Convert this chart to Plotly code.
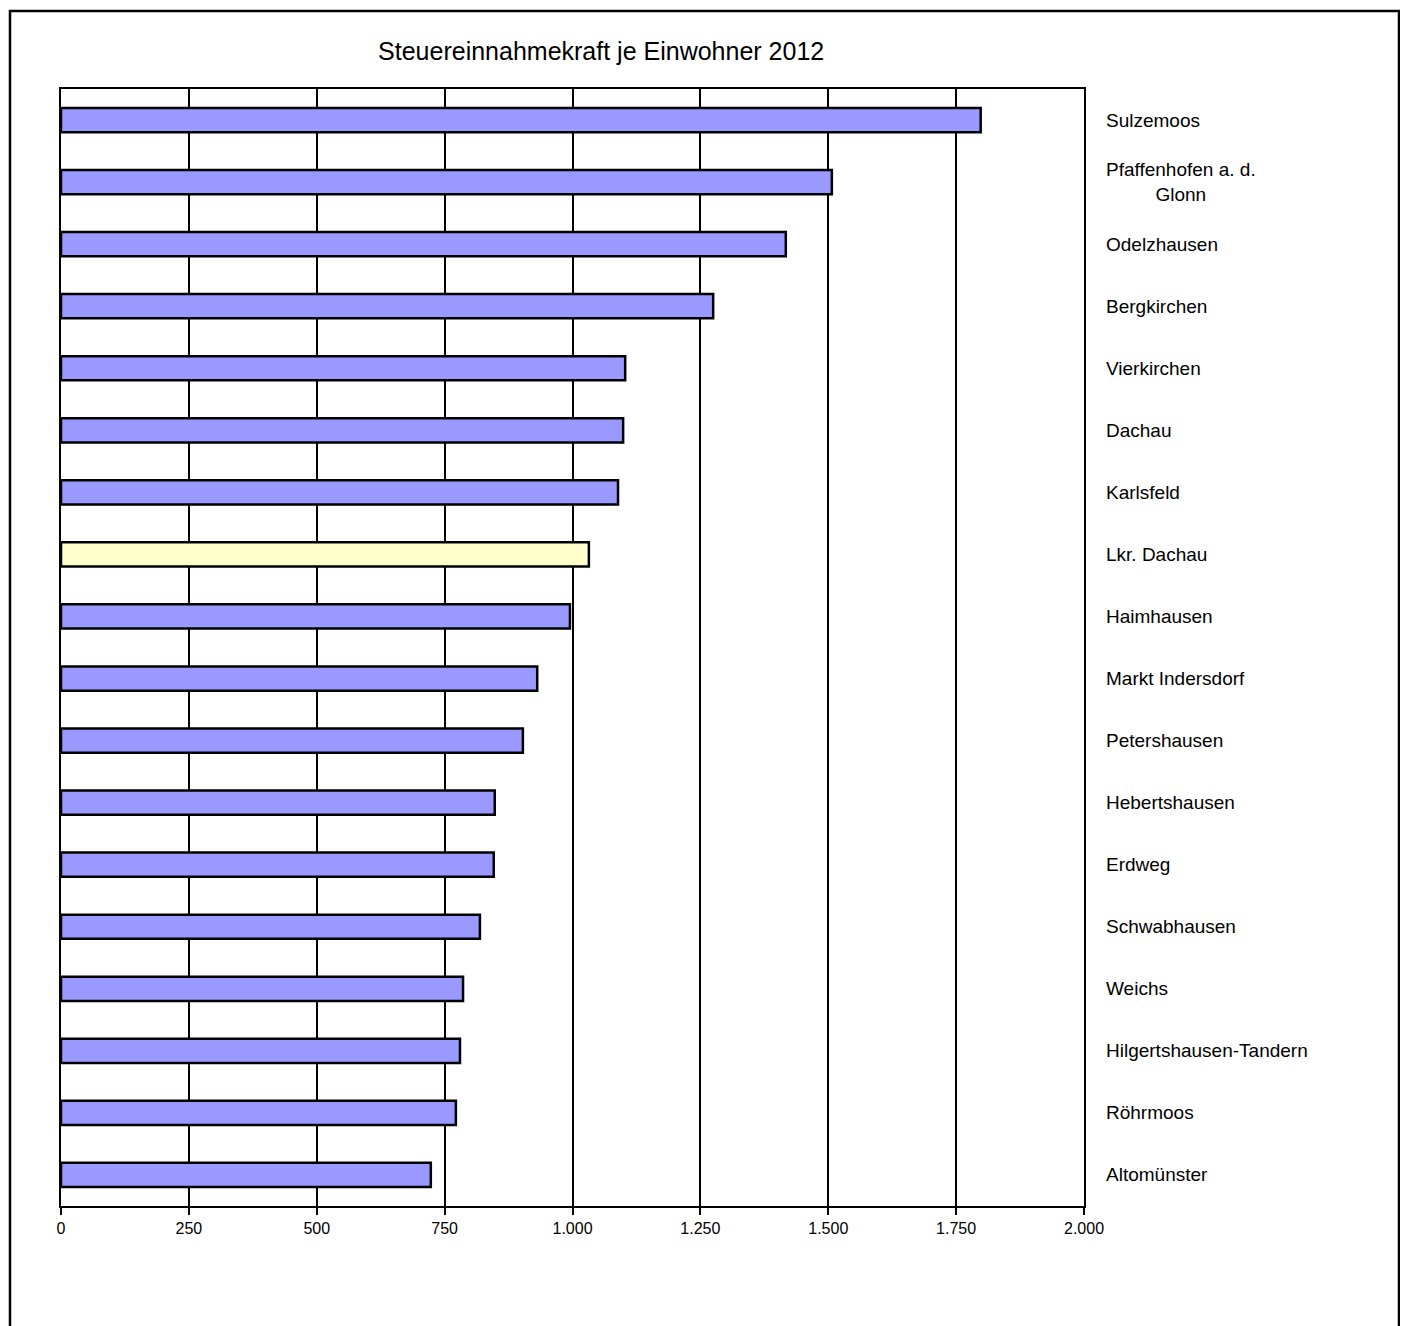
import plotly.graph_objects as go

# Gemeinden (top to bottom) and Steuereinnahmekraft je Einwohner 2012 in EUR
gemeinden = ["Sulzemoos", "Pfaffenhofen a. d.<br>Glonn", "Odelzhausen", "Bergkirchen",
             "Vierkirchen", "Dachau", "Karlsfeld", "Lkr. Dachau", "Haimhausen",
             "Markt Indersdorf", "Petershausen", "Hebertshausen", "Erdweg",
             "Schwabhausen", "Weichs", "Hilgertshausen-Tandern", "Röhrmoos", "Altomünster"]
werte = [1798, 1507, 1417, 1275, 1103, 1099, 1089, 1032, 995,
         931, 903, 848, 846, 819, 786, 780, 772, 723]
landkreis = "Lkr. Dachau"
x_ticks = [0, 250, 500, 750, 1000, 1250, 1500, 1750, 2000]

FONT = "Liberation Sans, Arial, sans-serif"

# highlight the district average in pale yellow
farben = ["#FFFFCC" if g == landkreis else "#9999FF" for g in gemeinden]

fig = go.Figure(go.Bar(
    x=werte, y=gemeinden, orientation="h",
    marker=dict(color=farben, line=dict(color="black", width=2.5)),
    hoverinfo="x+y",
))

# page puts the figure 8px in from the top-left corner
fig.update_layout(
    width=1398, height=1318,
    margin=dict(l=53, r=322, t=81, b=120),
    paper_bgcolor="white", plot_bgcolor="white",
    separators=",.",
    bargap=0.61,
    showlegend=False,
    font=dict(family=FONT, color="black"),
    title=dict(text="Steuereinnahmekraft je Einwohner 2012",
               font=dict(family=FONT, size=25, color="black"),
               xref="paper", x=0.528, xanchor="center",
               yref="container", y=1 - 43 / 1318, yanchor="middle"),
)

fig.update_xaxes(
    range=[0, 2000], tickvals=x_ticks, tickformat=",d",
    showgrid=True, gridcolor="black", gridwidth=1.5,
    ticks="outside", ticklen=7, tickcolor="black", tickwidth=1.5,
    showline=True, linecolor="black", linewidth=2, mirror=True,
    zeroline=False, tickfont=dict(size=16, family=FONT),
)
fig.update_yaxes(
    autorange="reversed", showticklabels=False, ticks="",
    showline=True, linecolor="black", linewidth=2, mirror=True,
    showgrid=False,
)

# Gemeinde names on the right, multi-line labels centred within their box
for g in gemeinden:
    fig.add_annotation(text=g, x=(1103 - 60) / 1023, xref="paper", y=g, yref="y",
                       xanchor="left", yanchor="middle", align="center",
                       showarrow=False, font=dict(size=19, family=FONT, color="black"))

# outer frame of the chart (right edge pulled in a bit so it stays on screen)
fig.add_shape(type="rect", xref="paper", yref="paper",
              x0=(9 - 60) / 1023, x1=(1398 - 60) / 1023,
              y0=(1205 - 1345) / 1117, y1=(1205 - 10) / 1117,
              line=dict(color="black", width=2.5), layer="below")

fig.write_html("out.html")
